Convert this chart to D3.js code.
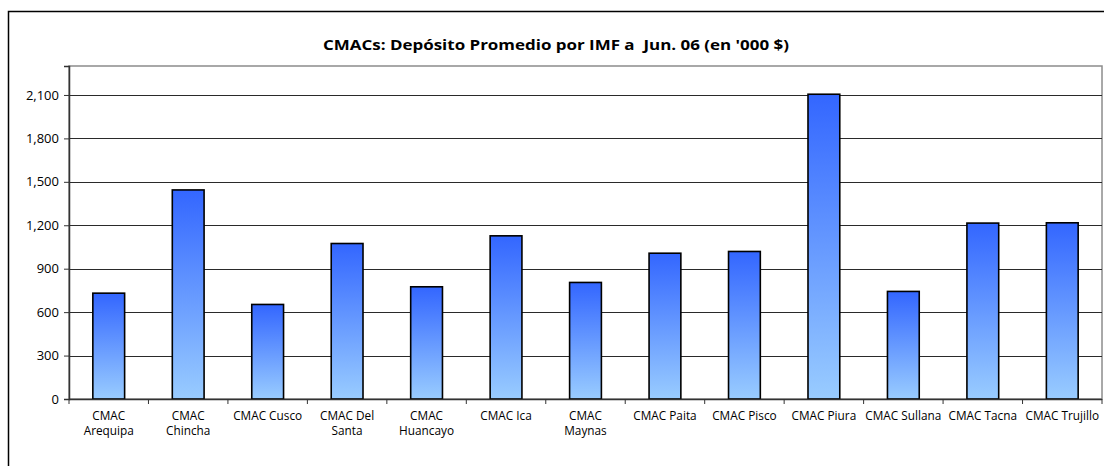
<!DOCTYPE html>
<html>
<head>
<meta charset="utf-8">
<script src="https://cdn.jsdelivr.net/npm/d3@7"></script>
<style>
  body { margin: 0; background: #fff; }
  svg { display: block; font-family: "Open Sans", "DejaVu Sans", sans-serif; }
</style>
</head>
<body>
<svg id="chart" width="1104" height="466"></svg>
<script>
const titleText = "CMACs: Depósito Promedio por IMF a  Jun. 06 (en '000 $)";
const categories = ["CMAC Arequipa", "CMAC Chincha", "CMAC Cusco", "CMAC Del Santa",
    "CMAC Huancayo", "CMAC Ica", "CMAC Maynas", "CMAC Paita", "CMAC Pisco",
    "CMAC Piura", "CMAC Sullana", "CMAC Tacna", "CMAC Trujillo"];
const values = [731, 1444, 653, 1074, 775, 1127, 805, 1007, 1019, 2105, 743, 1215, 1217];
const yTicks = [0, 300, 600, 900, 1200, 1500, 1800, 2100];

const W = 1104, H = 466;
const plot = {left: 69, right: 1102, top: 66, bottom: 399};

const svg = d3.select('#chart');

// gradient for the bars, dark blue on top
let grad = svg.append('defs').append('linearGradient')
    .attr('id', 'barGrad')
    .attr('x1', 0).attr('y1', 0).attr('x2', 0).attr('y2', 1);
grad.append('stop').attr('offset', '0%').attr('stop-color', '#3366ff');
grad.append('stop').attr('offset', '100%').attr('stop-color', '#99ccff');

// outer chart frame
svg.append('rect')
    .attr('x', 8.5).attr('y', 11.5)
    .attr('width', W + 20).attr('height', H + 20)
    .attr('fill', 'none')
    .attr('stroke', '#000')
    .attr('stroke-width', 1.5);

svg.append('text')
    .attr('x', 556).attr('y', 50)
    .attr('text-anchor', 'middle')
    .attr('textLength', 466)
    .attr('lengthAdjust', 'spacingAndGlyphs')
    .style('white-space', 'pre')
    .style('font-weight', 'bold')
    .style('font-size', '15px')
    .text(titleText);

let x = d3.scaleBand()
    .domain(categories)
    .range([plot.left, plot.right])
    .paddingInner(0.6)
    .paddingOuter(0.3);

let y = d3.scaleLinear()
    .domain([0, 2300])
    .range([plot.bottom, plot.top]);

// plot area border (gray)
svg.append('rect')
    .attr('x', plot.left).attr('y', plot.top)
    .attr('width', plot.right - plot.left).attr('height', plot.bottom - plot.top)
    .attr('fill', '#fff')
    .attr('stroke', '#8c8c8c')
    .attr('stroke-width', 1.5);

// gridlines
svg.append('g').selectAll('line')
    .data(yTicks.filter(d => d > 0))
    .enter().append('line')
    .attr('x1', plot.left).attr('x2', plot.right)
    .attr('y1', d => Math.round(y(d)) + 0.5)
    .attr('y2', d => Math.round(y(d)) + 0.5)
    .attr('stroke', '#2a2a2a')
    .attr('stroke-width', 1);

// bars
svg.append('g').selectAll('rect')
    .data(values)
    .enter().append('rect')
    .attr('x', (d, i) => x(categories[i]))
    .attr('y', d => y(d))
    .attr('width', x.bandwidth())
    .attr('height', d => y(0) - y(d))
    .attr('fill', 'url(#barGrad)')
    .attr('stroke', '#000')
    .attr('stroke-width', 1.6);

// y axis
let yAxis = svg.append('g')
    .attr('transform', `translate(${plot.left},0)`)
    .call(d3.axisLeft(y).tickValues(yTicks).tickFormat(d3.format(',')).tickSize(5).tickPadding(5));
yAxis.select('.domain').attr('stroke', '#333').attr('stroke-width', 1.5);
yAxis.selectAll('.tick line').attr('stroke', '#333');
yAxis.selectAll('text')
    .style('font-size', '13px')
    .style('font-family', '"Open Sans", sans-serif')
    .attr('fill', '#000');

// x axis, ticks between categories
let xAxisG = svg.append('g')
    .attr('transform', `translate(0,${plot.bottom})`);
xAxisG.append('line')
    .attr('x1', plot.left).attr('x2', plot.right)
    .attr('y1', 0.5).attr('y2', 0.5)
    .attr('stroke', '#333').attr('stroke-width', 1.5);
let edges = categories.map(c => x(c) - x.step() * x.paddingInner() / 2);
edges.push(plot.right);
xAxisG.selectAll('.tk')
    .data(edges)
    .enter().append('line')
    .attr('x1', d => d).attr('x2', d => d)
    .attr('y1', 0).attr('y2', 5)
    .attr('stroke', '#333');

// greedy word wrap, like excel does for category labels
const maxLabel = 77;
let labels = xAxisG.selectAll('.lbl')
    .data(categories)
    .enter().append('text')
    .attr('text-anchor', 'middle')
    .style('font-size', '11.8px')
    .attr('fill', '#000');
labels.each(function(d) {
    let t = d3.select(this);
    let cx = x(d) + x.bandwidth() / 2;
    let words = d.split(' ');
    let lines = [], cur = [];
    let probe = t.append('tspan');
    words.forEach(w => {
        probe.text(cur.concat(w).join(' '));
        if (cur.length && probe.node().getComputedTextLength() > maxLabel) {
            lines.push(cur.join(' '));
            cur = [w];
        } else {
            cur.push(w);
        }
    });
    lines.push(cur.join(' '));
    probe.remove();
    lines.forEach((ln, i) => {
        t.append('tspan').attr('x', cx).attr('y', 21 + i * 15).text(ln);
    });
});
</script>
</body>
</html>
